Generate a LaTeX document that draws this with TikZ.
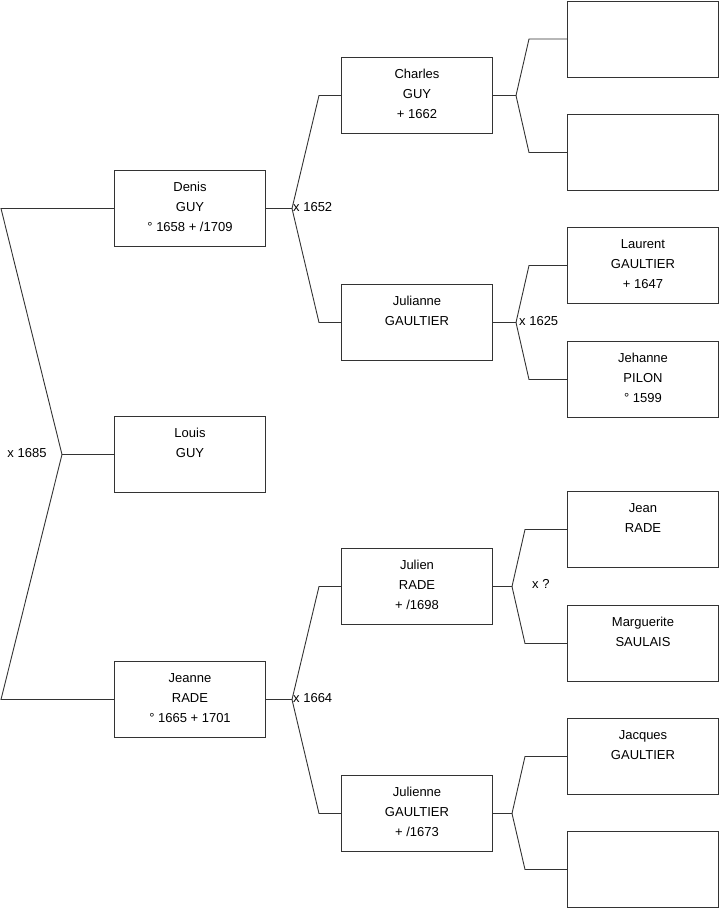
\documentclass[tikz,border=0pt]{standalone}
\usepackage{fontspec}
\setmainfont{Liberation Sans}
\usetikzlibrary{positioning, calc}
\definecolor{boxline}{RGB}{51,51,51}

\begin{document}
\begin{tikzpicture}[x=1pt, y=-1pt,
    pbox/.style={draw=boxline, line width=1pt, anchor=north west, minimum width=151pt, minimum height=76pt, inner sep=0pt},
    ptext/.style={anchor=north, align=center, inner sep=0pt, font=\fontsize{13}{20}\selectfont, execute at begin node=\strut},
    link/.style={draw=boxline, line width=0.9pt},
    wed/.style={inner sep=0pt, font=\fontsize{13}{16}\selectfont}]
    \useasboundingbox (0,0) rectangle (719,908);

    % Person boxes
    \foreach \id/\x/\y/\txt in {
        denis/114/170/{Denis\\GUY\\° 1658 + /1709},
        louis/114/416/{Louis\\GUY},
        jeanne/114/661/{Jeanne\\RADE\\° 1665 + 1701},
        charles/341/57/{Charles\\GUY\\+ 1662},
        julianne/341/284/{Julianne\\GAULTIER},
        julien/341/548/{Julien\\RADE\\+ /1698},
        julienne/341/775/{Julienne\\GAULTIER\\+ /1673},
        charlesf/567/0.5/{},
        charlesm/567/114/{},
        laurent/567/227/{Laurent\\GAULTIER\\+ 1647},
        jehanne/567/341/{Jehanne\\PILON\\° 1599},
        jean/567/491/{Jean\\RADE},
        marguerite/567/605/{Marguerite\\SAULAIS},
        jacques/567/718/{Jacques\\GAULTIER},
        juliennem/567/831/{}} {
        \node[pbox] (\id) at (\x,\y) {};
        \node[ptext] (\id-txt) at ([yshift=-12]\id.north) {\txt};
    }

    % Louis: both parents
    \draw[link] (louis.west) -- ++(-52,0) coordinate (m0) -- ([xshift=-113]denis.west) -- (denis.west);
    \draw[link] (m0) -- ([xshift=-113]jeanne.west) -- (jeanne.west);
    \node[wed] (w0) at ([xshift=-35,yshift=1]m0) {x 1685};

    % Denis
    \draw[link] (denis.east) -- ++(26,0) coordinate (m1) -- ([xshift=-22]charles.west) -- (charles.west);
    \draw[link] (m1) -- ([xshift=-22]julianne.west) -- (julianne.west);
    \node[wed, anchor=west] (w1) at ([xshift=1,yshift=1.5]m1) {x 1652};

    % Jeanne
    \draw[link] (jeanne.east) -- ++(26,0) coordinate (m3) -- ([xshift=-22]julien.west) -- (julien.west);
    \draw[link] (m3) -- ([xshift=-22]julienne.west) -- (julienne.west);
    \node[wed, anchor=west] (w3) at ([xshift=1,yshift=1.5]m3) {x 1664};

    % Charles
    \draw[link] (charles.east) -- ++(23,0) coordinate (m2) -- ([xshift=-38]charlesf.west) -- (charlesf.west);
    \draw[link] (m2) -- ([xshift=-38]charlesm.west) -- (charlesm.west);

    % Julianne
    \draw[link] (julianne.east) -- ++(23,0) coordinate (m5) -- ([xshift=-38]laurent.west) -- (laurent.west);
    \draw[link] (m5) -- ([xshift=-38]jehanne.west) -- (jehanne.west);
    \node[wed, anchor=west] (w5) at ([xshift=3,yshift=1.5]m5) {x 1625};

    % Julien
    \draw[link] (julien.east) -- ++(19,0) coordinate (m4) -- ([xshift=-42]jean.west) -- (jean.west);
    \draw[link] (m4) -- ([xshift=-42]marguerite.west) -- (marguerite.west);
    \node[wed, anchor=west] (w4) at ([xshift=20,yshift=2.5]m4) {x ?};

    % Julienne
    \draw[link] (julienne.east) -- ++(19,0) coordinate (m6) -- ([xshift=-42]jacques.west) -- (jacques.west);
    \draw[link] (m6) -- ([xshift=-42]juliennem.west) -- (juliennem.west);
\end{tikzpicture}
\end{document}
